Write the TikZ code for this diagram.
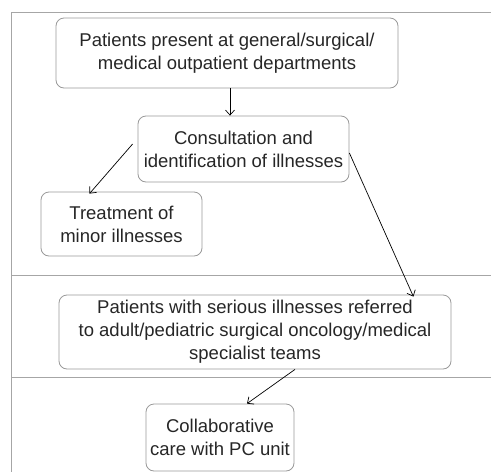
\documentclass[tikz,border=0pt]{standalone}
\usepackage{fontspec}
\setmainfont{Liberation Sans}
\usetikzlibrary{arrows.meta}
\usetikzlibrary{positioning}
\tikzset{
    lane/.style = {draw=black!35,line width=0.9pt},
    stage/.style = {draw=black!40,rounded corners=8pt,line width=0.8pt,align=center,inner sep=0,
        font=\fontsize{18.5}{23}\selectfont,text=black!85},
    flow/.style = {line width=0.7pt,-{Straight Barb[length=5pt,width=9pt]}}
}

\begin{document}
\begin{tikzpicture}[x=1pt,y=-1pt]
        \useasboundingbox (0,0) rectangle (491,472);
        % Lanes
        \path (11,472) coordinate (lbot)
            to (11,12) coordinate (ltop)
            to (491,12) coordinate (rtop)
        ;
        \draw[lane] (lbot) -- (ltop) -- (rtop);
        \foreach \y in {275,377}
            \draw[lane] (11,\y) -- (491,\y);
        % Stages
        \node[stage,minimum width=342,minimum height=70] (present) at (227,53)
            {Patients present at general/surgical/\\medical outpatient departments};
        \node[stage,minimum width=211,minimum height=66] (consult) at (243.5,149)
            {Consultation and\\identification of illnesses};
        \node[stage,minimum width=161,minimum height=64] (minor) at (121.5,224)
            {Treatment of\\minor illnesses};
        \node[stage,minimum width=392,minimum height=74] (serious) at (255,332)
            {Patients with serious illnesses referred\\to adult/pediatric surgical oncology/medical\\specialist teams};
        \node[stage,minimum width=148,minimum height=67] (collab) at (220,437.5)
            {Collaborative\\care with PC unit};
        % Arrows
        \draw[flow] ([xshift=3]present.south) to ([xshift=3]present.south |- consult.north);
        \draw[flow] ([xshift=-5,yshift=5]consult.west) to ([xshift=-32,yshift=-2]minor.north);
        \draw[flow] ([yshift=-4]consult.east) to ([xshift=-38,yshift=-2]serious.north east);
        \draw[flow] ([xshift=40]serious.south) to ([xshift=27]collab.north);
    \end{tikzpicture}
\end{document}
